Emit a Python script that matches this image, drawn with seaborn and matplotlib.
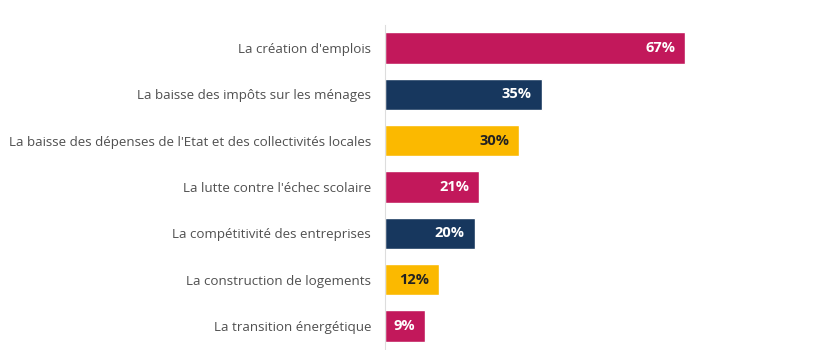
import matplotlib
matplotlib.use("Agg")
import matplotlib.pyplot as plt
import seaborn as sns
import pandas as pd

categories = [
    "La création d'emplois",
    "La baisse des impôts sur les ménages",
    "La baisse des dépenses de l'Etat et des collectivités locales",
    "La lutte contre l'échec scolaire",
    "La compétitivité des entreprises",
    "La construction de logements",
    "La transition énergétique",
]
values = [67, 35, 30, 21, 20, 12, 9]
value_labels = ["67%", "35%", "30%", "21%", "20%", "12%", "9%"]
bar_colors = ["#c2185b", "#17375e", "#fbb900", "#c2185b", "#17375e", "#fbb900", "#c2185b"]
text_colors = ["white", "white", "#222222", "white", "white", "#222222", "white"]

sns.set_theme(style="white")
plt.rcParams["font.family"] = ["Open Sans", "DejaVu Sans"]

df = pd.DataFrame({"cat": categories, "val": values})

fig = plt.figure(figsize=(8.4, 3.5), dpi=100)
ax = fig.add_axes([385 / 840, 0.0024, 448 / 840, 0.9266])

sns.barplot(data=df, x="val", y="cat", hue="cat", palette=bar_colors,
            dodge=False, legend=False, width=0.67, ax=ax, orient="h",
            saturation=1)

ax.set_xlim(0, 100)
ax.set_ylim(6.5, -0.5)
ax.set_xlabel("")
ax.set_ylabel("")
ax.set_xticks([])
ax.tick_params(axis="y", length=0, pad=10, labelsize=9.6, labelcolor="#505050")
for s in ["top", "right", "bottom"]:
    ax.spines[s].set_visible(False)
ax.spines["left"].set_color("#dddddd")
ax.spines["left"].set_linewidth(0.8)

for i, (v, lab, tc) in enumerate(zip(values, value_labels, text_colors)):
    ax.text(v - 2.2, i, lab, ha="right", va="center", color=tc,
            fontsize=10.5, fontweight="bold")

fig.savefig("out.png", dpi=100, facecolor="white")
